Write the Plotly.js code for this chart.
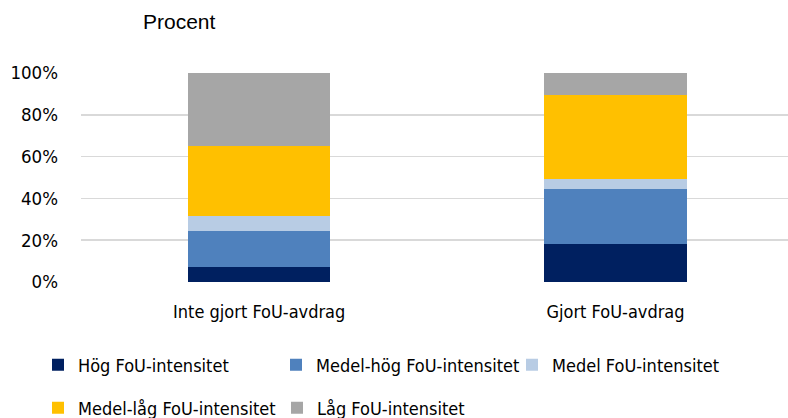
<!DOCTYPE html>
<html>
<head>
<meta charset="utf-8">
<script src="https://cdn.plot.ly/plotly-3.0.1.min.js"></script>
<style>html,body{margin:0;padding:0;background:#fff;}#chart{width:788px;height:418px;}</style>
</head>
<body>
<div id="chart"></div>
<script>
const categories = ["Inte gjort FoU-avdrag", "Gjort FoU-avdrag"];
const seriesNames = ["Hög FoU-intensitet", "Medel-hög FoU-intensitet", "Medel FoU-intensitet", "Medel-låg FoU-intensitet", "Låg FoU-intensitet"];
const hog = [7.0, 18.0];
const medelHog = [17.5, 26.4];
const medel = [7.2, 4.9];
const medelLag = [33.5, 40.0];
const lag = [34.8, 10.7];
const yTicks = [0, 20, 40, 60, 80, 100];
const yTickLabels = ["0%", "20%", "40%", "60%", "80%", "100%"];

const colors = ["#002060", "#4f81bd", "#b8cce4", "#ffc000", "#a6a6a6"];
const values = [hog, medelHog, medel, medelLag, lag];
const legendIds = ["legend", "legend2", "legend3", "legend4", "legend5"];
// legend item text start (px from left) and row centre (px from top)
const legendX = [38, 276, 512, 38, 277];
const legendY = [365, 365, 365, 408, 408];

const FONT = "'DejaVu Sans Condensed', 'Liberation Sans Narrow', sans-serif";

const traces = values.map((v, i) => ({
  type: "bar",
  name: seriesNames[i],
  x: categories,
  y: v,
  width: 0.4,
  marker: {color: colors[i]},
  legend: legendIds[i],
  hoverinfo: "skip"
}));

const layout = {
  width: 788, height: 418,
  margin: {l: 81, r: 0, t: 73, b: 136},
  paper_bgcolor: "#fff", plot_bgcolor: "#fff",
  barmode: "stack",
  showlegend: true,
  title: {
    text: "Procent",
    xref: "container", yref: "container",
    x: 143/788, xanchor: "left",
    y: 1 - 22/418, yanchor: "middle",
    font: {family: "'Liberation Sans', Arial, sans-serif", size: 21, color: "#000"}
  },
  xaxis: {
    type: "category",
    range: [-0.5, 1.484],
    showgrid: false, zeroline: false, showline: false, ticks: "",
    tickfont: {family: FONT, size: 18, color: "#000"},
    ticklabelstandoff: 17
  },
  yaxis: {
    range: [0, 100],
    tickvals: yTicks, ticktext: yTickLabels,
    showgrid: true, gridcolor: "#d9d9d9", gridwidth: 1.5,
    zeroline: false, showline: false, ticks: "",
    tickfont: {family: FONT, size: 18.5, color: "#000"},
    ticklabelstandoff: 22
  }
};

legendIds.forEach((id, i) => {
  layout[id] = {
    orientation: "h",
    xref: "container", yref: "container",
    x: legendX[i] / 788, y: 1 - legendY[i] / 418,
    xanchor: "left", yanchor: "middle",
    font: {family: FONT, size: 18, color: "#000"},
    bgcolor: "rgba(0,0,0,0)",
    borderwidth: 0,
    itemclick: false
  };
});

Plotly.newPlot("chart", traces, layout, {displayModeBar: false, staticPlot: true});
</script>
</body>
</html>
